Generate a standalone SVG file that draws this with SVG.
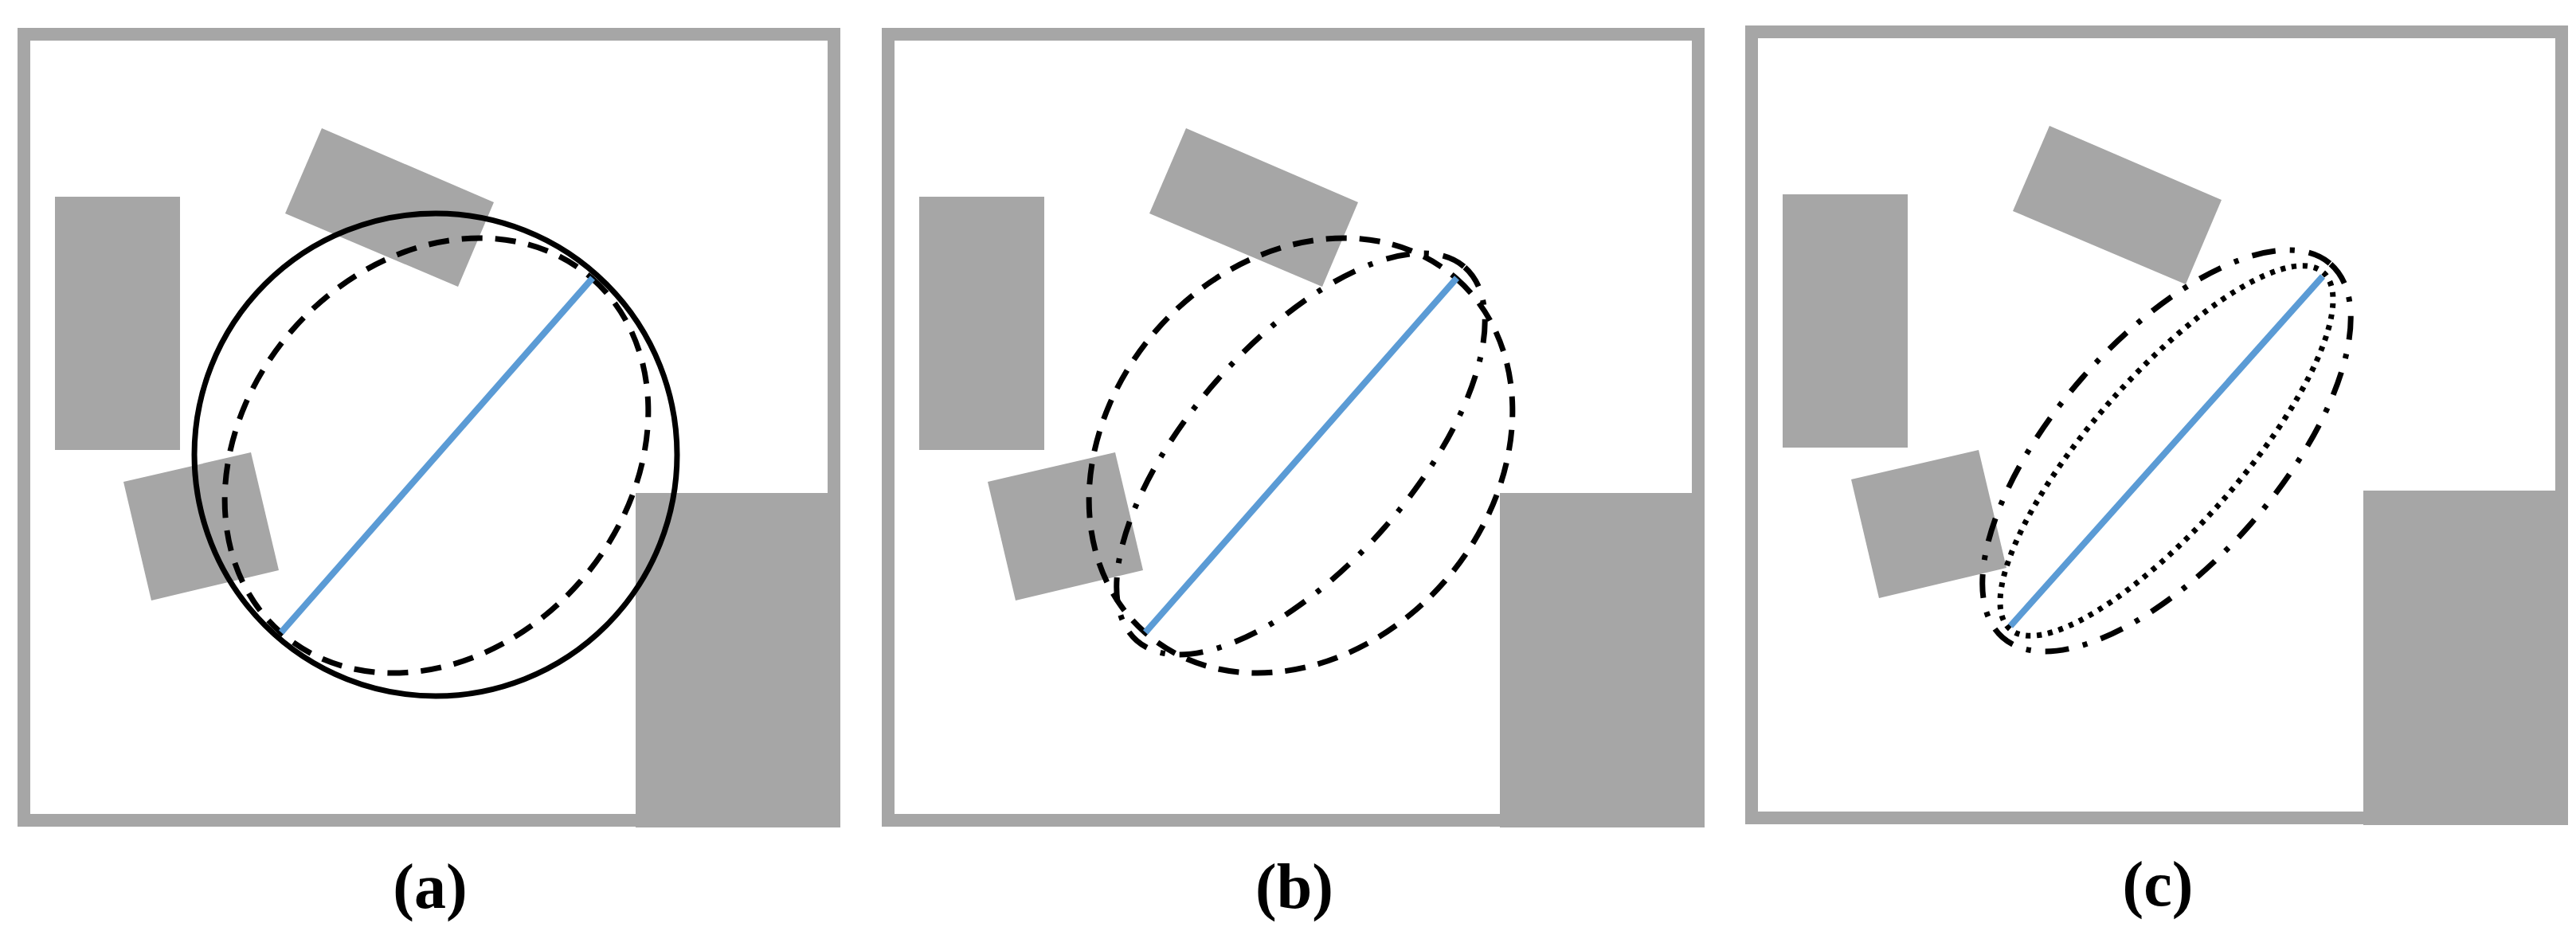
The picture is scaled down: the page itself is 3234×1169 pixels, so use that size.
<svg xmlns="http://www.w3.org/2000/svg" width="3234" height="1169" viewBox="0 0 3234 1169">
<style>
.frame{fill:none;stroke:#a6a6a6;stroke-width:16}
.obs{fill:#a6a6a6}
.blue{stroke:#5b9bd5;stroke-width:8;fill:none}
.solid{fill:none;stroke:#000;stroke-width:7}
.dash{fill:none;stroke:#000;stroke-width:7;stroke-dasharray:26 16}
.dashdot{fill:none;stroke:#000;stroke-width:7;stroke-dasharray:30 18 6 18}
.dot{fill:none;stroke:#000;stroke-width:7;stroke-dasharray:6 8}
.lbl{font-family:"Liberation Serif",serif;font-weight:bold;font-size:80px;text-anchor:middle}
</style>
<defs>
<g id="env">
<rect class="frame" x="30" y="43" width="1017" height="987"/>
<rect class="obs" x="69" y="247" width="157" height="318"/>
<polygon class="obs" points="404,161 620,254 575,360 358,268"/>
<polygon class="obs" points="155,605 315,568 350,716 190,754"/>
<rect class="obs" x="798" y="619" width="257" height="420"/>
</g>
</defs>
<g id="panel-a">
<use href="#env"/>
<circle class="solid" cx="547" cy="571" r="303"/>
<ellipse class="dash" cx="548" cy="572" rx="296" ry="240" transform="rotate(-48.7 548 572)"/>
<line class="blue" x1="744" y1="349" x2="353" y2="794"/>
<text class="lbl" x="540" y="1140">(a)</text>
</g>
<g id="panel-b" transform="translate(1085,0)">
<use href="#env"/>
<ellipse class="dash" cx="548" cy="572" rx="296" ry="240" transform="rotate(-48.7 548 572)"/>
<ellipse class="dashdot" cx="548" cy="570" rx="312" ry="140" transform="rotate(-48.7 548 570)"/>
<line class="blue" x1="744" y1="349" x2="353" y2="794"/>
<text class="lbl" x="540" y="1140">(b)</text>
</g>
<g id="panel-c" transform="translate(2169,-3)">
<use href="#env"/>
<ellipse class="dashdot" cx="551" cy="569" rx="312" ry="140" transform="rotate(-48.7 551 569)"/>
<ellipse class="dot" cx="551" cy="569" rx="298" ry="94" transform="rotate(-48.7 551 569)"/>
<line class="blue" x1="747" y1="350" x2="355" y2="789"/>
<text class="lbl" x="540" y="1140">(c)</text>
</g>
</svg>
